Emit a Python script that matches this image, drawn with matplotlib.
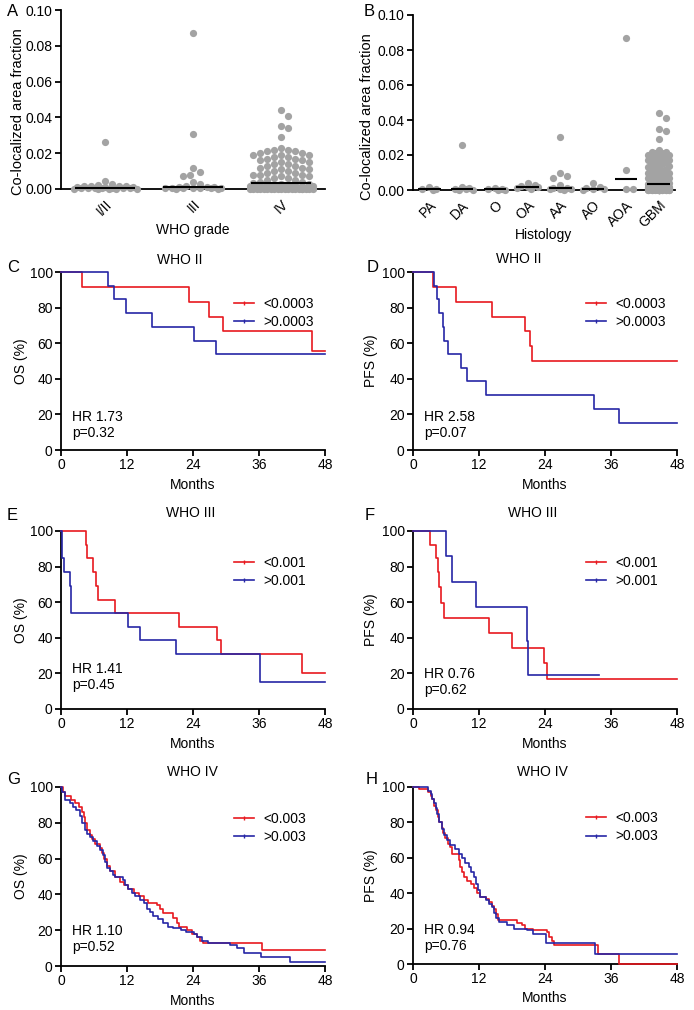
import numpy as np
import matplotlib
matplotlib.use('Agg')
import matplotlib.pyplot as plt
from matplotlib.lines import Line2D

plt.rcParams['font.family'] = ['Liberation Sans', 'DejaVu Sans']
plt.rcParams['font.size'] = 10

RED = '#e8191f'
BLUE = '#2626a6'
GRAY = '#a3a3a3'

# co-localized area fraction per histology
pa = [0.0015, 0.0008, 0.0005, 0.0002]
da = [0.026, 0.0015, 0.001, 0.0005, 0.0003, 0.0001, 0.0]
o = [0.001, 0.0006, 0.0003, 0.0001, 0.0]
oa = [0.0042, 0.003, 0.0025, 0.0018, 0.0015, 0.001, 0.0005]
aa = [0.0305, 0.0095, 0.008, 0.007, 0.003, 0.0012, 0.001, 0.0008, 0.0005, 0.0003, 0.0001]
ao = [0.004, 0.0015, 0.001, 0.0005, 0.0003, 0.0001]
aoa = [0.087, 0.0115, 0.0008, 0.0005]
gbm = [0.044, 0.041, 0.035, 0.034, 0.029, 0.023, 0.022, 0.022, 0.021, 0.021,
       0.020, 0.020, 0.019, 0.019, 0.019, 0.018, 0.018, 0.017, 0.017, 0.016,
       0.016, 0.015, 0.015, 0.014, 0.014, 0.013, 0.013, 0.012, 0.012, 0.011,
       0.011, 0.010, 0.010, 0.009, 0.009, 0.008, 0.008, 0.008, 0.007, 0.007,
       0.006, 0.006, 0.005, 0.005, 0.004, 0.004, 0.0035,
       0.003, 0.0028, 0.0025, 0.0022, 0.002, 0.002, 0.0018, 0.0016, 0.0015, 0.0014,
       0.0012, 0.0011, 0.001, 0.001, 0.0009, 0.0008, 0.0008, 0.0007, 0.0006, 0.0006,
       0.0005, 0.0005, 0.0004, 0.0004, 0.0003, 0.0003, 0.0002, 0.0002, 0.0002, 0.0001,
       0.0001, 0.0001, 0, 0, 0, 0, 0, 0, 0, 0, 0, 0, 0, 0, 0, 0]
hist_labels = ['PA', 'DA', 'O', 'OA', 'AA', 'AO', 'AOA', 'GBM']
grade_labels = ['I/II', 'III', 'IV']

# Kaplan-Meier steps: event times (months) and survival (%) after each step
c_red_t = [3.9, 23.3, 26.9, 29.5, 45.7]
c_red_s = [91.7, 83.3, 75.0, 66.7, 55.6]
c_blue_t = [8.6, 9.6, 11.9, 16.5, 24.2, 28.1]
c_blue_s = [92.3, 84.6, 76.9, 69.2, 61.5, 53.8]

d_red_t = [3.6, 7.9, 14.4, 20.3, 21.3, 21.7]
d_red_s = [91.7, 83.3, 75.0, 66.7, 58.3, 50.0]
d_blue_t = [3.9, 4.4, 4.8, 5.4, 5.7, 6.4, 8.7, 9.8, 13.3, 32.9, 37.5]
d_blue_s = [92.3, 84.6, 76.9, 69.2, 61.5, 53.8, 46.2, 38.5, 30.8, 23.1, 15.4]

e_red_t = [4.5, 4.8, 5.9, 6.4, 6.7, 9.8, 21.5, 28.3, 29.1, 43.8]
e_red_s = [92.3, 84.6, 76.9, 69.2, 61.5, 53.8, 46.2, 38.5, 30.8, 20.5]
e_blue_t = [0.1, 0.2, 0.5, 1.7, 1.75, 1.85, 12.1, 14.3, 20.9, 36.2]
e_blue_s = [92.3, 84.6, 76.9, 69.2, 61.5, 53.8, 46.2, 38.5, 30.8, 15.4]

f_red_t = [3.0, 4.2, 4.5, 4.7, 5.1, 5.6, 13.9, 18.0, 23.9, 24.4]
f_red_s = [92.3, 84.6, 76.9, 68.4, 59.8, 51.3, 42.7, 34.2, 25.6, 17.1]
f_blue_t = [6.0, 7.0, 11.5, 20.7, 20.9]
f_blue_s = [85.7, 71.4, 57.1, 38.1, 19.0]

g_red_t = [0.4, 0.7, 1.9, 2.5, 3.3, 3.8, 4.1, 4.4, 4.8, 5.2, 5.6, 6.2, 7.0, 7.4, 7.8, 8.3,
           8.9, 9.8, 10.7, 11.5, 12.2, 13.2, 14.1, 15.0, 15.9, 17.4, 18.0, 18.6, 20.4, 21.0,
           21.5, 22.9, 23.8, 24.7, 25.3, 25.9, 36.5]
g_red_s = [97, 95, 93, 91, 89, 86, 83, 80, 76, 73, 71, 68, 66, 63, 60, 56,
           53, 50, 47, 45, 43, 41, 39, 37, 35, 34, 32, 29.5, 27, 24,
           22, 20, 18, 16, 14, 13, 8.7]
g_blue_t = [0.1, 0.7, 1.6, 2.2, 2.8, 3.5, 3.9, 4.4, 4.8, 5.3, 5.9, 6.5, 7.1, 7.6, 8.0, 8.4,
            8.9, 9.4, 9.8, 11.2, 11.6, 12.2, 12.9, 13.5, 14.4, 15.0, 15.6, 16.2, 16.8, 17.7,
            18.6, 19.5, 20.4, 21.9, 22.8, 24.1, 24.7, 25.6, 26.8, 30.8, 32.0, 33.2, 36.3, 41.6]
g_blue_s = [97, 93, 91, 89, 87, 84, 80, 76, 74, 72, 70, 67, 65, 62, 58, 55,
            53, 51, 50, 48, 45, 43, 41, 39, 37, 35, 32, 30, 28, 26,
            24, 22, 21, 20, 19, 18, 16, 14, 13, 12, 10, 7, 5, 2]

h_red_t = [1.0, 2.8, 3.2, 3.5, 3.8, 4.1, 4.5, 4.8, 5.2, 5.5, 5.9, 6.3, 6.8, 7.1, 8.4, 8.6,
           8.9, 9.3, 9.9, 10.5, 11.0, 11.6, 12.1, 13.2, 13.8, 14.4, 14.7, 15.0, 15.4, 18.9,
           19.8, 20.4, 21.9, 24.4, 24.8, 25.3, 25.7, 33.6, 37.4]
h_red_s = [99, 97, 95, 93, 89, 87, 83, 80, 77, 74, 71, 68, 66, 62, 59, 55,
           52, 49, 47, 45, 43, 40, 38, 37, 35, 33, 31, 28, 25, 23,
           22, 20, 19, 18, 15, 13, 11, 5.5, 0]
h_blue_t = [2.8, 3.2, 3.5, 3.8, 4.1, 4.4, 4.8, 5.3, 5.7, 6.2, 6.8, 7.7, 8.3, 8.9, 9.5, 10.1,
            10.5, 11.0, 11.5, 11.9, 12.2, 13.2, 13.8, 14.4, 14.7, 15.0, 15.6, 17.1, 18.3, 20.7,
            21.9, 24.1, 24.2, 33.0]
h_blue_s = [98, 96, 93, 91, 88, 85, 80, 76, 73, 70, 67, 65, 62, 60, 57, 55,
            52, 49, 45, 42, 38, 36, 34, 32, 29, 26, 24, 22, 20, 19,
            17, 15, 12, 5.5]

W, H = 694, 1010
fig = plt.figure(figsize=(W / 100, H / 100), dpi=100)


def px_axes(left, top, right, bottom):
    return fig.add_axes([left / W, 1 - bottom / H, (right - left) / W, (bottom - top) / H])


def style(ax):
    for s in ['top', 'right']:
        ax.spines[s].set_visible(False)
    for s in ['left', 'bottom']:
        ax.spines[s].set_linewidth(1.3)
    ax.tick_params(direction='out', length=4, width=1.3, labelsize=10, pad=2)


def swarm(ax, ys, center, maxw, d=7.0):
    # spread points sideways (in pixels) so they do not overlap
    x0, y0 = ax.transData.transform((0, 0))
    x1, y1 = ax.transData.transform((1, 0.01))
    sx = x1 - x0
    sy = (y1 - y0) / 0.01
    offsets = [0.0]
    k = 1
    while k * d / 2 <= maxw:
        offsets += [k * d / 2, -k * d / 2]
        k += 1
    placed, xs = [], []
    for y in ys:
        py = y * sy
        best, bestd = 0.0, -1
        for off in offsets:
            dmin = min([np.hypot(off - qx, py - qy) for qx, qy in placed] or [99])
            if dmin >= d:
                best = off
                break
            if dmin > bestd:
                best, bestd = off, dmin
        placed.append((best, py))
        xs.append(center + best / sx)
    return xs


def scatter_panel(ax, groups, labels, maxw, xlabel, lab_x, lab_cy, lab_y):
    style(ax)
    ax.set_xlim(-0.5, len(groups) - 0.5)
    ax.set_ylim(0, 0.10)
    ax.set_yticks([0, 0.02, 0.04, 0.06, 0.08, 0.10])
    ax.set_yticklabels(['%.2f' % v for v in [0, 0.02, 0.04, 0.06, 0.08, 0.10]])
    ax.set_xticks(range(len(groups)))
    ax.set_xticklabels(labels, rotation=45, ha='right', rotation_mode='anchor')
    ax.tick_params(axis='x', length=0, pad=6)
    for i, g in enumerate(groups):
        ys = sorted(g, reverse=True)
        xs = swarm(ax, ys, i, maxw)
        ax.scatter(xs, ys, s=27, color=GRAY, linewidths=0, clip_on=False, zorder=3)
        ax.hlines(np.median(g), i - 0.34, i + 0.34, color='black', lw=1.5, zorder=4)
    ax.set_ylabel('Co-localized area fraction', fontsize=10.5)
    ax.yaxis.set_label_coords(lab_x, lab_cy)
    ax.set_xlabel(xlabel)
    ax.xaxis.set_label_coords(0.5, lab_y)


def km(ax, t, s, color, end=48):
    ax.step([0] + t + [end], [100] + s + [s[-1]], where='post', color=color, lw=1.2,
            clip_on=False, zorder=3)


def km_panel(ax, red_t, red_s, blue_t, blue_s, blue_end, cut, ylabel, title, tx, ty,
             hr, p, hr_y, lab_x):
    style(ax)
    km(ax, red_t, red_s, RED)
    km(ax, blue_t, blue_s, BLUE, blue_end)
    ax.set_xlim(0, 48)
    ax.set_ylim(0, 100)
    ax.set_xticks([0, 12, 24, 36, 48])
    ax.set_yticks([0, 20, 40, 60, 80, 100])
    ax.set_xlabel('Months')
    ax.xaxis.set_label_coords(0.5, -0.155)
    ax.set_ylabel(ylabel)
    ax.yaxis.set_label_coords(lab_x, 0.5)
    ax.text(tx, ty, title, transform=ax.transAxes, ha='center', va='center')
    ax.text(0.042, hr_y, 'HR ' + hr, transform=ax.transAxes, ha='left', va='center')
    ax.text(0.042, hr_y - 0.09, 'p=' + p, transform=ax.transAxes, ha='left', va='center')
    handles = [Line2D([0], [0], color=RED, lw=1.2, marker='|', ms=3.5, mew=1.0),
               Line2D([0], [0], color=BLUE, lw=1.2, marker='|', ms=3.5, mew=1.0)]
    ax.legend(handles, ['<' + cut, '>' + cut], loc='center left', bbox_to_anchor=(0.655, 0.772),
              frameon=False, borderpad=0, borderaxespad=0, handlelength=1.45,
              handletextpad=0.7, labelspacing=0.3, numpoints=1, fontsize=10)


# A
ax_a = px_axes(61, 10, 325, 189)
scatter_panel(ax_a, [pa + da + o + oa, aa + ao + aoa, gbm], grade_labels, 32,
              'WHO grade', -0.135, 0.43, -0.19)
# B
ax_b = px_axes(413, 15, 675, 190)
scatter_panel(ax_b, [pa, da, o, oa, aa, ao, aoa, gbm], hist_labels, 11,
              'Histology', -0.15, 0.42, -0.217)

ax_c = px_axes(61, 272, 325, 450)
km_panel(ax_c, c_red_t, c_red_s, c_blue_t, c_blue_s, 48, '0.0003', 'OS (%)', 'WHO II',
         0.45, 1.067, '1.73', '0.32', 0.185, -0.125)
ax_d = px_axes(413, 272, 677, 450)
km_panel(ax_d, d_red_t, d_red_s, d_blue_t, d_blue_s, 48, '0.0003', 'PFS (%)', 'WHO II',
         0.40, 1.073, '2.58', '0.07', 0.185, -0.133)
ax_e = px_axes(61, 531, 325, 709)
km_panel(ax_e, e_red_t, e_red_s, e_blue_t, e_blue_s, 48, '0.001', 'OS (%)', 'WHO III',
         0.49, 1.10, '1.41', '0.45', 0.225, -0.125)
ax_f = px_axes(413, 531, 677, 709)
km_panel(ax_f, f_red_t, f_red_s, f_blue_t, f_blue_s, 33.9, '0.001', 'PFS (%)', 'WHO III',
         0.455, 1.10, '0.76', '0.62', 0.197, -0.133)
ax_g = px_axes(61, 787, 325, 966)
km_panel(ax_g, g_red_t, g_red_s, g_blue_t, g_blue_s, 48, '0.003', 'OS (%)', 'WHO IV',
         0.496, 1.084, '1.10', '0.52', 0.196, -0.125)
ax_h = px_axes(413, 787, 677, 964)
km_panel(ax_h, h_red_t, h_red_s, h_blue_t, h_blue_s, 48, '0.003', 'PFS (%)', 'WHO IV',
         0.49, 1.085, '0.94', '0.76', 0.19, -0.133)

# panel letters
for letter, x, y in [('A', 7, 11), ('B', 364, 12), ('C', 7, 267), ('D', 367, 267),
                     ('E', 7, 516), ('F', 365, 516), ('G', 7, 780), ('H', 366, 780)]:
    fig.text(x / W, 1 - y / H, letter, fontsize=12, ha='left', va='center')

fig.savefig('out.png', dpi=100)
